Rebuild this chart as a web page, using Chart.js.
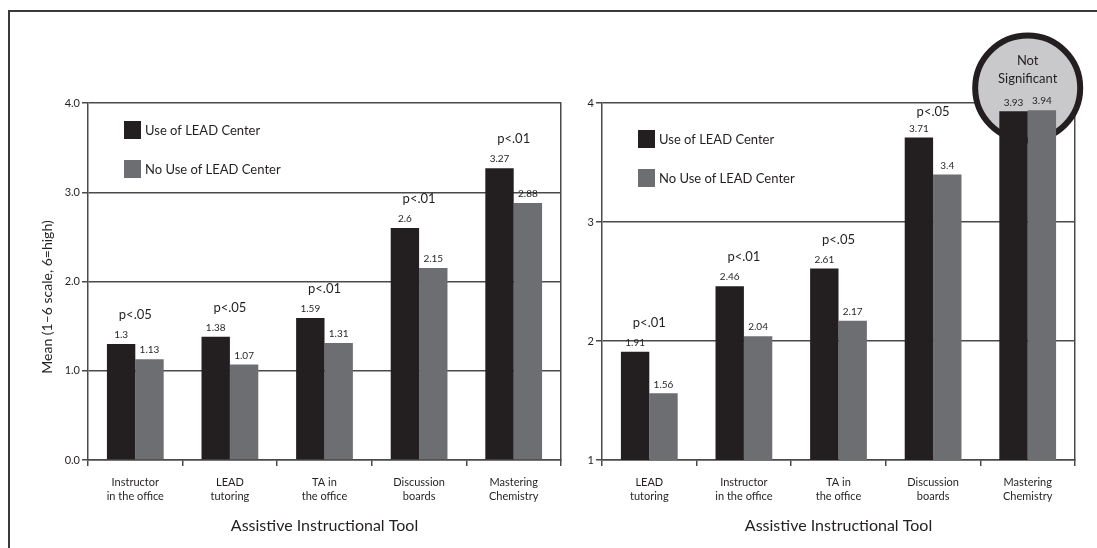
<!DOCTYPE html>
<html lang="en">
<head>
<meta charset="UTF-8">
<title>Use of LEAD Center and Assistive Instructional Tools</title>
<script src="https://cdn.jsdelivr.net/npm/chart.js"></script>
<style>
    html, body { margin: 0; padding: 0; overflow: hidden; background: #fff; font-family: Lato, sans-serif; }
    #frame { position: absolute; left: 8px; top: 10px; width: 1100px; height: 560px; border-top: 2px solid #3a3a3a; border-left: 2px solid #3a3a3a; }
    .chart-box { position: absolute; top: 0; }
    #leftBox { left: 9px; }
    #rightBox { left: 575px; }
</style>
</head>
<body>
<div id="frame"></div>
<div class="chart-box" id="leftBox"><canvas id="leftChart" width="566" height="548"></canvas></div>
<div class="chart-box" id="rightBox"><canvas id="rightChart" width="522" height="548"></canvas></div>

<script>
    // left panel
    const leftCategories = [["Instructor", "in the office"], ["LEAD", "tutoring"], ["TA in", "the office"], ["Discussion", "boards"], ["Mastering", "Chemistry"]];
    const leftUse = [1.3, 1.38, 1.59, 2.6, 3.27];
    const leftNoUse = [1.13, 1.07, 1.31, 2.15, 2.88];
    const leftSig = ["p<.05", "p<.05", "p<.01", "p<.01", "p<.01"];
    const leftTickLabels = ["0.0", "1.0", "2.0", "3.0", "4.0"];

    // right panel
    const rightCategories = [["LEAD", "tutoring"], ["Instructor", "in the office"], ["TA in", "the office"], ["Discussion", "boards"], ["Mastering", "Chemistry"]];
    const rightUse = [1.91, 2.46, 2.61, 3.71, 3.93];
    const rightNoUse = [1.56, 2.04, 2.17, 3.4, 3.94];
    const rightSig = ["p<.01", "p<.01", "p<.05", "p<.05", "Not Significant"];
    const rightTickLabels = ["1", "2", "3", "4"];

    const seriesNames = ["Use of LEAD Center", "No Use of LEAD Center"];

    const BLACK = '#231f20';
    const GREY = '#6d6e71';
    const TEXT = '#231f20';
    const LINE = '#4a4a4a';
    const NOT_SIG = "Not Significant";

    // value labels, p-values, legend and the "not significant" badge
    const barLabels = {
        id: 'barLabels',
        beforeDatasetsDraw(chart, args, opts) {
            const ctx = chart.ctx;
            opts.sig.forEach((s, i) => {
                if (s !== NOT_SIG) return;
                const x = chart.scales.x.getPixelForValue(i);
                const y = chart.chartArea.top - 15;
                ctx.save();
                ctx.beginPath();
                ctx.arc(x, y, 52.5, 0, Math.PI * 2);
                ctx.fillStyle = '#c9c9cb';
                ctx.fill();
                ctx.lineWidth = 6;
                ctx.strokeStyle = BLACK;
                ctx.stroke();
                ctx.fillStyle = TEXT;
                ctx.font = '13px Lato';
                ctx.textAlign = 'center';
                ctx.textBaseline = 'middle';
                const lines = s.split(' ');
                ctx.fillText(lines[0], x, y - 27);
                ctx.fillText(lines[1], x, y - 9);
                ctx.restore();
            });
        },
        afterDatasetsDraw(chart, args, opts) {
            const ctx = chart.ctx;
            const area = chart.chartArea;
            ctx.save();
            ctx.fillStyle = TEXT;
            ctx.textAlign = 'center';
            ctx.textBaseline = 'middle';

            // numbers over bars
            ctx.font = '10px Lato';
            chart.data.datasets.forEach((ds, d) => {
                chart.getDatasetMeta(d).data.forEach((bar, i) => {
                    ctx.fillText(String(ds.data[i]), bar.x, bar.y - 9);
                });
            });

            // p-values over each pair, kept under the top line
            ctx.font = '13px Lato';
            const a = chart.getDatasetMeta(0).data;
            const b = chart.getDatasetMeta(1).data;
            opts.sig.forEach((s, i) => {
                if (s === NOT_SIG) return;
                const x = chart.scales.x.getPixelForValue(i);
                const y = Math.max(area.top + 9, Math.min(a[i].y, b[i].y) - 29);
                ctx.fillText(s, x, y);
            });

            // legend inside the plot
            ctx.textAlign = 'left';
            ctx.font = '13px Lato';
            chart.data.datasets.forEach((ds, d) => {
                const lx = area.left + 36;
                const ly = area.top + opts.legendTop + d * 39;
                ctx.fillStyle = ds.backgroundColor;
                ctx.fillRect(lx, ly, 17, 18);
                ctx.fillStyle = TEXT;
                ctx.fillText(ds.label, lx + 21, ly + 10);
            });

            // y axis title
            if (opts.yTitle) {
                ctx.translate(38, 297);
                ctx.rotate(-Math.PI / 2);
                ctx.textAlign = 'center';
                ctx.font = '14px Lato';
                ctx.fillText(opts.yTitle, 0, 0);
            }
            ctx.restore();
        }
    };

    function makeChart(canvasId, cfg) {
        return new Chart(document.getElementById(canvasId), {
            type: 'bar',
            data: {
                labels: cfg.labels,
                datasets: [
                    { label: seriesNames[0], data: cfg.use, backgroundColor: BLACK },
                    { label: seriesNames[1], data: cfg.noUse, backgroundColor: GREY }
                ]
            },
            options: {
                responsive: false,
                animation: false,
                devicePixelRatio: 1,
                datasets: { bar: { categoryPercentage: 0.6, barPercentage: 1 } },
                layout: { padding: { top: 103, right: cfg.padRight, left: 0, bottom: 0 } },
                plugins: {
                    legend: { display: false },
                    tooltip: { enabled: false },
                    barLabels: { sig: cfg.sig, legendTop: cfg.legendTop, yTitle: cfg.yTitle }
                },
                scales: {
                    x: {
                        grid: { offset: true, drawOnChartArea: false, drawTicks: true, tickLength: 6, color: LINE, lineWidth: 1.5 },
                        border: { color: LINE, width: 1.5 },
                        ticks: { color: TEXT, font: { family: 'Lato', size: 11, lineHeight: 1.27 }, padding: 9, maxRotation: 0, autoSkip: false },
                        title: { display: true, text: 'Assistive Instructional Tool', color: TEXT, font: { family: 'Lato', size: 16 }, padding: { top: 0, bottom: 13 } },
                        afterFit(s) { s.height = 88; }
                    },
                    y: {
                        min: cfg.min,
                        max: cfg.max,
                        ticks: {
                            stepSize: 1,
                            color: TEXT,
                            font: { family: 'Lato', size: 11 },
                            padding: 2,
                            callback: (v, i) => cfg.tickLabels[i]
                        },
                        grid: { color: LINE, lineWidth: 1.5, tickLength: 6 },
                        border: { color: LINE, width: 1.5 },
                        afterFit(s) { s.width = cfg.axisWidth; }
                    },
                    y2: {
                        position: 'right',
                        min: cfg.min,
                        max: cfg.max,
                        ticks: { display: false },
                        grid: { drawOnChartArea: false, drawTicks: false },
                        border: { color: LINE, width: 1.5 },
                        afterFit(s) { s.width = 0; }
                    }
                }
            },
            plugins: [barLabels]
        });
    }

    makeChart('leftChart', {
        labels: leftCategories, use: leftUse, noUse: leftNoUse, sig: leftSig,
        min: 0, max: 4, tickLabels: leftTickLabels,
        axisWidth: 79, padRight: 14, legendTop: 18,
        yTitle: 'Mean (1\u20136 scale, 6=high)'
    });

    makeChart('rightChart', {
        labels: rightCategories, use: rightUse, noUse: rightNoUse, sig: rightSig,
        min: 1, max: 4, tickLabels: rightTickLabels,
        axisWidth: 27, padRight: 22, legendTop: 27
    });
</script>
</body>
</html>
